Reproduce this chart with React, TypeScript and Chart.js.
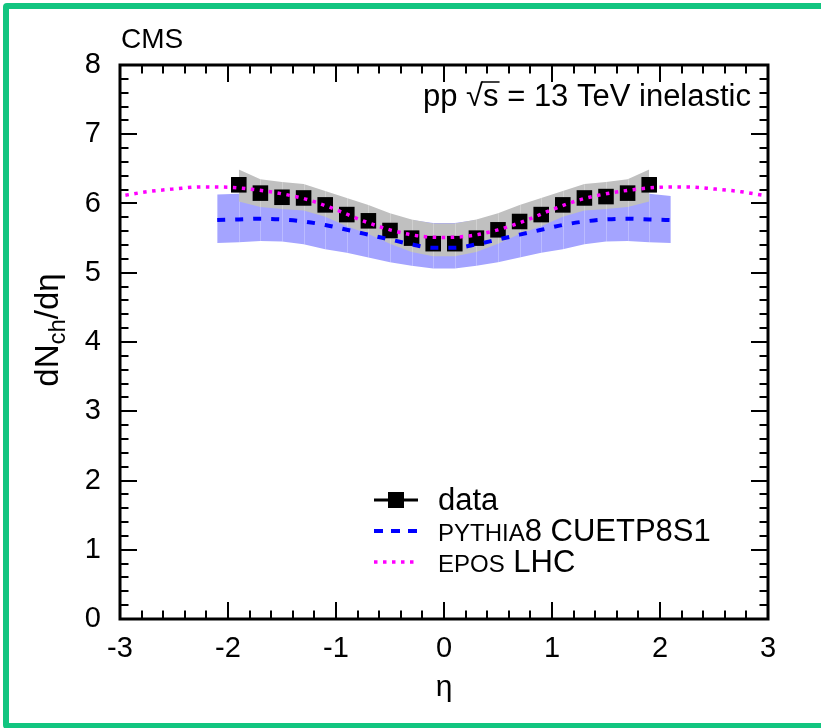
import React, { useEffect, useRef } from 'react';
import { Chart, registerables } from 'chart.js';

Chart.register(...registerables);

const FONT = "'Liberation Sans', Arial, Helvetica, sans-serif";

// ---- data ----
const dataEta = [-1.9, -1.7, -1.5, -1.3, -1.1, -0.9, -0.7, -0.5, -0.3, -0.1, 0.1, 0.3, 0.5, 0.7, 0.9, 1.1, 1.3, 1.5, 1.7, 1.9];
const dataValues = [6.27, 6.15, 6.09, 6.08, 5.98, 5.84, 5.75, 5.61, 5.50, 5.42, 5.42, 5.50, 5.62, 5.74, 5.84, 5.98, 6.08, 6.10, 6.15, 6.27];
const dataSysLow = [6.03, 5.95, 5.92, 5.90, 5.81, 5.67, 5.56, 5.42, 5.30, 5.24, 5.24, 5.30, 5.42, 5.56, 5.67, 5.81, 5.90, 5.92, 5.95, 6.03];
const dataSysHigh = [6.49, 6.35, 6.31, 6.28, 6.18, 6.08, 5.98, 5.86, 5.77, 5.71, 5.71, 5.77, 5.86, 5.98, 6.08, 6.18, 6.28, 6.31, 6.35, 6.49];

const pythiaEta = [-2.1, -1.9, -1.7, -1.5, -1.3, -1.1, -0.9, -0.7, -0.5, -0.3, -0.1, 0.1, 0.3, 0.5, 0.7, 0.9, 1.1, 1.3, 1.5, 1.7, 1.9, 2.1];
const pythiaValues = [5.76, 5.77, 5.78, 5.77, 5.74, 5.69, 5.62, 5.55, 5.48, 5.41, 5.36, 5.36, 5.41, 5.48, 5.55, 5.62, 5.69, 5.74, 5.77, 5.78, 5.77, 5.76];
const pythiaLow = [5.43, 5.44, 5.46, 5.45, 5.41, 5.34, 5.29, 5.22, 5.15, 5.10, 5.06, 5.06, 5.10, 5.15, 5.22, 5.29, 5.34, 5.41, 5.45, 5.46, 5.44, 5.43];
const pythiaHigh = [6.13, 6.14, 6.15, 6.14, 6.11, 6.05, 5.98, 5.91, 5.83, 5.76, 5.72, 5.72, 5.76, 5.83, 5.91, 5.98, 6.05, 6.11, 6.14, 6.15, 6.14, 6.11];

const eposEta = [-2.95, -2.75, -2.5, -2.25, -2.0, -1.75, -1.5, -1.25, -1.0, -0.75, -0.5, -0.25, 0, 0.25, 0.5, 0.75, 1.0, 1.25, 1.5, 1.75, 2.0, 2.25, 2.5, 2.75, 2.95];
const eposValues = [6.12, 6.17, 6.21, 6.24, 6.235, 6.20, 6.14, 6.05, 5.91, 5.75, 5.62, 5.535, 5.51, 5.535, 5.62, 5.75, 5.91, 6.05, 6.14, 6.20, 6.235, 6.24, 6.21, 6.17, 6.12];

const xTickValues = [-3, -2, -1, 0, 1, 2, 3];
const yTickValues = [0, 1, 2, 3, 4, 5, 6, 7, 8];
const xMinorStep = 0.2;
const yMinorStep = 0.2;

const legendLabels = ['data', 'PYTHIA', '8 CUETP8S1', 'EPOS', ' LHC'];

const pts = (xs: number[], ys: number[]) => xs.map((x, i) => ({ x, y: ys[i] }));

// faint seams inside the filled bands (as in the reference rendering)
const seamPlugin = {
  id: 'bandSeams',
  afterDatasetDraw(chart: any, args: any) {
    const idx = args.index;
    let xs: number[] | null = null, lo: number[] = [], hi: number[] = [];
    if (idx === 6) { xs = pythiaEta; lo = pythiaLow; hi = pythiaHigh; }
    if (idx === 4) { xs = dataEta; lo = dataSysLow; hi = dataSysHigh; }
    if (!xs) return;
    const { ctx, scales } = chart;
    ctx.save();
    ctx.strokeStyle = 'rgba(255,255,255,0.25)';
    ctx.lineWidth = 1;
    for (let i = 1; i < xs.length - 1; i++) {
      const px = Math.round(scales.x.getPixelForValue(xs[i])) + 0.5;
      ctx.beginPath();
      ctx.moveTo(px, scales.y.getPixelForValue(lo[i]));
      ctx.lineTo(px, scales.y.getPixelForValue(hi[i]));
      ctx.stroke();
    }
    ctx.restore();
  },
};

const decorPlugin = {
  id: 'rootDecor',
  afterDraw(chart: any) {
    const { ctx, chartArea: ca, scales } = chart;
    const x = scales.x;
    const y = scales.y;
    ctx.save();
    const line = (x1: number, y1: number, x2: number, y2: number) => {
      ctx.beginPath();
      ctx.moveTo(x1, y1);
      ctx.lineTo(x2, y2);
      ctx.stroke();
    };
    ctx.strokeStyle = '#000';
    ctx.setLineDash([]);
    // ticks
    ctx.lineWidth = 2;
    const xMin = xTickValues[0];
    const xMax = xTickValues[xTickValues.length - 1];
    for (let v = xMin; v <= xMax + 1e-6; v += xMinorStep) {
      const px = Math.round(x.getPixelForValue(v));
      const major = xTickValues.some((t) => Math.abs(t - v) < 1e-6);
      const len = major ? 17 : 8.5;
      line(px, ca.bottom, px, ca.bottom - len);
      line(px, ca.top, px, ca.top + len);
    }
    const yMin = yTickValues[0];
    const yMax = yTickValues[yTickValues.length - 1];
    for (let v = yMin; v <= yMax + 1e-6; v += yMinorStep) {
      const py = Math.round(y.getPixelForValue(v));
      const major = yTickValues.some((t) => Math.abs(t - v) < 1e-6);
      const len = major ? 17 : 8.5;
      line(ca.left, py, ca.left + len, py);
      line(ca.right, py, ca.right - len, py);
    }
    // frame
    ctx.lineWidth = 3;
    ctx.strokeRect(ca.left, ca.top, ca.right - ca.left, ca.bottom - ca.top);

    // texts
    ctx.fillStyle = '#000';
    ctx.textBaseline = 'alphabetic';
    ctx.textAlign = 'left';
    ctx.font = `28px ${FONT}`;
    ctx.fillText('CMS', ca.left + 1, ca.top - 17);

    // pp sqrt(s) = 13 TeV inelastic
    ctx.font = `31px ${FONT}`;
    const segA = 'pp ';
    const segRoot = '\u221A';
    const segS = 's';
    const segB = ' = 13 TeV inelastic';
    const wA = ctx.measureText(segA).width;
    const wR = ctx.measureText(segRoot).width;
    const wS = ctx.measureText(segS).width;
    const wB = ctx.measureText(segB).width;
    const right = ca.right - 17;
    const base = ca.top + 41;
    let cx = right - (wA + wR + wS + wB);
    ctx.fillText(segA, cx, base); cx += wA;
    ctx.fillText(segRoot, cx, base); cx += wR;
    ctx.lineWidth = 1.5;
    line(cx - 1, base - 24, cx + wS + 1, base - 24);
    ctx.fillText(segS, cx, base); cx += wS;
    ctx.fillText(segB, cx, base);

    // x title
    ctx.font = `30px ${FONT}`;
    ctx.textAlign = 'center';
    ctx.fillText('\u03B7', (ca.left + ca.right) / 2, ca.bottom + 77);

    // y title, rotated
    ctx.save();
    ctx.translate(58, ca.top + 265);
    ctx.rotate(-Math.PI / 2);
    ctx.textAlign = 'left';
    const big = `33px ${FONT}`;
    const small = `24px ${FONT}`;
    ctx.font = big; const w1 = ctx.measureText('dN').width;
    ctx.font = small; const w2 = ctx.measureText('ch').width;
    ctx.font = big; const w3 = ctx.measureText('/d\u03B7').width;
    let tx = -(w1 + w2 + w3) / 2;
    ctx.font = big; ctx.fillText('dN', tx, 0); tx += w1;
    ctx.font = small; ctx.fillText('ch', tx, 7); tx += w2;
    ctx.font = big; ctx.fillText('/d\u03B7', tx, 0);
    ctx.restore();

    // legend
    const lx0 = 374, lx1 = 418, tx0 = 438;
    const rows = [500, 531, 562];
    ctx.textAlign = 'left';
    // data
    ctx.strokeStyle = '#000'; ctx.lineWidth = 3; ctx.setLineDash([]);
    line(lx0, rows[0], lx1, rows[0]);
    ctx.fillStyle = '#000';
    ctx.fillRect(396 - 8, rows[0] - 8, 16, 16);
    ctx.font = `31px ${FONT}`;
    ctx.fillText(legendLabels[0], tx0, rows[0] + 10);
    // pythia
    ctx.strokeStyle = '#0000ff'; ctx.lineWidth = 4; ctx.setLineDash([9, 8]);
    line(lx0, rows[1], lx1, rows[1]);
    ctx.setLineDash([]);
    ctx.font = `24px ${FONT}`;
    ctx.fillText(legendLabels[1], tx0, rows[1] + 10);
    const ws1 = ctx.measureText(legendLabels[1]).width;
    ctx.font = `31px ${FONT}`;
    ctx.fillText(legendLabels[2], tx0 + ws1, rows[1] + 10);
    // epos
    ctx.strokeStyle = '#ff00ff'; ctx.lineWidth = 3.5; ctx.setLineDash([3.5, 5.5]);
    line(lx0, rows[2], lx1, rows[2]);
    ctx.setLineDash([]);
    ctx.font = `24px ${FONT}`;
    ctx.fillText(legendLabels[3], tx0, rows[2] + 10);
    const ws2 = ctx.measureText(legendLabels[3]).width;
    ctx.font = `31px ${FONT}`;
    ctx.fillText(legendLabels[4], tx0 + ws2, rows[2] + 10);

    ctx.restore();
  },
};

export default function App() {
  const ref = useRef<HTMLCanvasElement | null>(null);

  useEffect(() => {
    if (!ref.current) return;
    const chart = new Chart(ref.current, {
      type: 'scatter',
      data: {
        datasets: [
          {
            label: 'EPOS LHC',
            data: pts(eposEta, eposValues),
            showLine: true,
            borderColor: '#ff00ff',
            borderWidth: 3.5,
            borderDash: [3.5, 5.5],
            pointRadius: 0,
            cubicInterpolationMode: 'monotone',
            fill: false,
            order: 0,
          },
          {
            label: 'PYTHIA8 CUETP8S1',
            data: pts(pythiaEta, pythiaValues),
            showLine: true,
            borderColor: '#0000ff',
            borderWidth: 4,
            borderDash: [8, 10],
            pointRadius: 0,
            cubicInterpolationMode: 'monotone',
            fill: false,
            order: 1,
          },
          {
            label: 'data',
            data: pts(dataEta, dataValues),
            pointStyle: 'rect',
            pointRadius: 11,
            pointBackgroundColor: '#000',
            pointBorderWidth: 0,
            pointBorderColor: '#000',
            order: 2,
          },
          {
            label: 'data sys low',
            data: pts(dataEta, dataSysLow),
            showLine: true,
            borderColor: 'rgba(0,0,0,0)',
            borderWidth: 0,
            pointRadius: 0,
            fill: false,
            order: 4,
          },
          {
            label: 'data sys high',
            data: pts(dataEta, dataSysHigh),
            showLine: true,
            borderColor: 'rgba(0,0,0,0)',
            borderWidth: 0,
            pointRadius: 0,
            backgroundColor: '#c0c0c0',
            fill: '-1',
            order: 4,
          },
          {
            label: 'pythia low',
            data: pts(pythiaEta, pythiaLow),
            showLine: true,
            borderColor: 'rgba(0,0,0,0)',
            borderWidth: 0,
            pointRadius: 0,
            fill: false,
            order: 5,
          },
          {
            label: 'pythia high',
            data: pts(pythiaEta, pythiaHigh),
            showLine: true,
            borderColor: 'rgba(0,0,0,0)',
            borderWidth: 0,
            pointRadius: 0,
            backgroundColor: '#a4a4ff',
            fill: '-1',
            order: 5,
          },
        ],
      },
      options: {
        responsive: false,
        animation: false,
        devicePixelRatio: 1,
        layout: { padding: { top: 65, right: 53, left: 0, bottom: 0 } },
        plugins: {
          legend: { display: false },
          tooltip: { enabled: false },
        },
        scales: {
          x: {
            type: 'linear',
            min: -3,
            max: 3,
            grid: { display: false, drawTicks: false },
            border: { display: false },
            afterBuildTicks: (s: any) => {
              s.ticks = xTickValues.map((v) => ({ value: v }));
            },
            afterFit: (s: any) => {
              s.height = 109;
            },
            ticks: {
              color: '#000',
              font: { family: FONT, size: 29 },
              padding: 13,
              maxRotation: 0,
              autoSkip: false,
              callback: (v: any) => String(v),
            },
          },
          y: {
            type: 'linear',
            min: 0,
            max: 8,
            grid: { display: false, drawTicks: false },
            border: { display: false },
            afterBuildTicks: (s: any) => {
              s.ticks = yTickValues.map((v) => ({ value: v }));
            },
            afterFit: (s: any) => {
              s.width = 120;
            },
            ticks: {
              color: '#000',
              font: { family: FONT, size: 29 },
              padding: 19,
              autoSkip: false,
              callback: (v: any) => String(v),
            },
          },
        },
      },
      plugins: [seamPlugin, decorPlugin],
    } as any);
    return () => chart.destroy();
  }, []);

  return (
    <div style={{ position: 'fixed', left: 0, top: 0, width: 821, height: 728, overflow: 'hidden', background: '#fff' }}>
      <div
        style={{
          position: 'absolute',
          left: 3,
          top: 3,
          width: 900,
          height: 714,
          border: '6px solid rgb(18,197,128)',
          borderRadius: 4,
        }}
      />
      <canvas ref={ref} width={821} height={728} style={{ position: 'absolute', left: 0, top: 0 }} />
    </div>
  );
}
